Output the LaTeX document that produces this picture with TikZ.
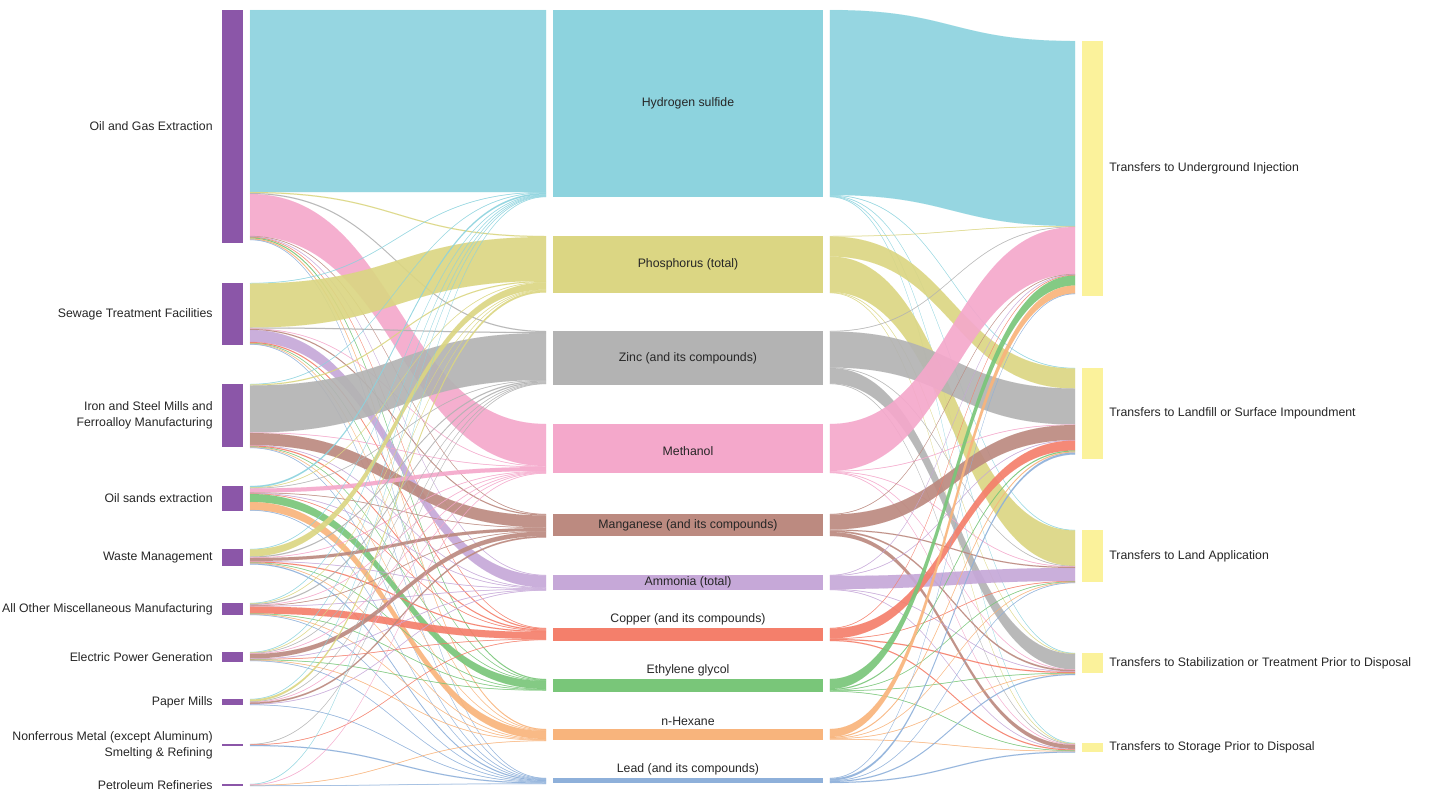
\documentclass[tikz,border=0pt]{standalone}
\usepackage{fontspec}
\setmainfont{Liberation Sans}
\usetikzlibrary{calc,positioning}

\definecolor{cind}{HTML}{8B56A8}
\definecolor{cdest}{HTML}{FBF29B}
\definecolor{ch2s}{HTML}{8DD3DE}
\definecolor{cphos}{HTML}{DBD683}
\definecolor{czinc}{HTML}{B3B3B3}
\definecolor{cmeth}{HTML}{F4A8CB}
\definecolor{cmang}{HTML}{BC8A80}
\definecolor{cammo}{HTML}{C6A8D8}
\definecolor{ccopp}{HTML}{F47F6B}
\definecolor{ceg}{HTML}{79C679}
\definecolor{chex}{HTML}{F8B47C}
\definecolor{clead}{HTML}{8EB0DA}

\tikzset{
  indbar/.style={fill=cind, inner sep=0pt, outer sep=0pt, minimum width=0.42cm},
  destbar/.style={fill=cdest, inner sep=0pt, outer sep=0pt, minimum width=0.42cm},
  chembox/.style={inner sep=0pt, outer sep=0pt, minimum width=5.4cm},
  lbl/.style={font=\fontsize{7}{9}\selectfont, text=black!85, inner sep=0pt},
  band/.style={fill=#1, fill opacity=0.92, draw=#1, draw opacity=0.4, line width=0.15pt}
}

% ribbon from node #1 to node #2, width #3 (px), colour #4
\newcommand{\flow}[4]{%
  \pgfmathsetmacro\ribA{\csname offout#1\endcsname}%
  \pgfmathsetmacro\ribB{\ribA+#3}%
  \pgfmathsetmacro\ribC{\csname offin#2\endcsname}%
  \pgfmathsetmacro\ribD{\ribC+#3}%
  \expandafter\xdef\csname offout#1\endcsname{\ribB}%
  \expandafter\xdef\csname offin#2\endcsname{\ribD}%
  \edef\ribcol{#4}%
  \coordinate (fa) at ($(#1.north east)+(7,\ribA)$);
  \coordinate (fb) at ($(#1.north east)+(7,\ribB)$);
  \coordinate (fc) at ($(#2.north west)+(-7,\ribC)$);
  \coordinate (fd) at ($(#2.north west)+(-7,\ribD)$);
  \coordinate (fm) at ($(fa)!.5!(fc)$);
  \path[band=\ribcol] (fa) .. controls (fm |- fa) and (fm |- fc) .. (fc) -- (fd)
    .. controls (fm |- fd) and (fm |- fb) .. (fb) -- cycle;
}

\begin{document}
\begin{tikzpicture}[x=0.02cm, y=-0.02cm]
\useasboundingbox (0,0) rectangle (1429,790);

% industries
\node[indbar, minimum height=4.66cm] (oil) at (232.5,126.5) {};
\node[indbar, minimum height=1.24cm] (sew) at (232.5,314) {};
\node[indbar, minimum height=1.26cm] (iron) at (232.5,415.5) {};
\node[indbar, minimum height=0.50cm] (sand) at (232.5,498.5) {};
\node[indbar, minimum height=0.34cm] (waste) at (232.5,557.5) {};
\node[indbar, minimum height=0.24cm] (misc) at (232.5,609) {};
\node[indbar, minimum height=0.20cm] (elec) at (232.5,657) {};
\node[indbar, minimum height=0.12cm] (paper) at (232.5,702) {};
\node[indbar, minimum height=0.04cm] (nonf) at (232.5,745) {};
\node[indbar, minimum height=0.04cm] (petro) at (232.5,785) {};

\node[lbl, left=0.18cm of oil] (loil) {Oil and Gas Extraction};
\node[lbl, left=0.18cm of sew] (lsew) {Sewage Treatment Facilities};
\node[lbl, align=right, left=0.18cm of iron] (liron) {Iron and Steel Mills and\\Ferroalloy Manufacturing};
\node[lbl, left=0.18cm of sand] (lsand) {Oil sands extraction};
\node[lbl, left=0.18cm of waste] (lwaste) {Waste Management};
\node[lbl, left=0.18cm of misc] (lmisc) {All Other Miscellaneous Manufacturing};
\node[lbl, left=0.18cm of elec] (lelec) {Electric Power Generation};
\node[lbl, left=0.18cm of paper] (lpaper) {Paper Mills};
\node[lbl, align=right, left=0.18cm of nonf] (lnonf) {Nonferrous Metal (except Aluminum)\\Smelting \& Refining};
\node[lbl, left=0.18cm of petro] (lpetro) {Petroleum Refineries};

% chemicals
\node[chembox, fill=ch2s, minimum height=3.74cm] (h2s) at (688,103.5) {};
\node[chembox, fill=cphos, minimum height=1.14cm] (phos) at (688,264.5) {};
\node[chembox, fill=czinc, minimum height=1.08cm] (zinc) at (688,358) {};
\node[chembox, fill=cmeth, minimum height=0.98cm] (meth) at (688,448.5) {};
\node[chembox, fill=cmang, minimum height=0.44cm] (mang) at (688,525) {};
\node[chembox, fill=cammo, minimum height=0.30cm] (ammo) at (688,582.5) {};
\node[chembox, fill=ccopp, minimum height=0.26cm] (copp) at (688,634.5) {};
\node[chembox, fill=ceg, minimum height=0.26cm] (eg) at (688,685.5) {};
\node[chembox, fill=chex, minimum height=0.22cm] (hex) at (688,734.5) {};
\node[chembox, fill=clead, minimum height=0.10cm] (lead) at (688,780.5) {};

\node[lbl] (lh2s) at (h2s) {Hydrogen sulfide};
\node[lbl] (lphos) at (phos) {Phosphorus (total)};
\node[lbl] (lzinc) at (zinc) {Zinc (and its compounds)};
\node[lbl] (lmeth) at ([yshift=-0.05cm]meth.center) {Methanol};
\node[lbl] (lmang) at (mang) {Manganese (and its compounds)};
\node[lbl] (lammo) at (ammo) {Ammonia (total)};
\node[lbl, above=0.06cm of copp] (lcopp) {Copper (and its compounds)};
\node[lbl, above=0.06cm of eg] (leg) {Ethylene glycol};
\node[lbl, above=0.06cm of hex] (lhex) {n-Hexane};
\node[lbl, above=0.06cm of lead] (llead) {Lead (and its compounds)};

% destinations
\node[destbar, minimum height=5.10cm] (ui) at (1092.5,168.5) {};
\node[destbar, minimum height=1.82cm] (land) at (1092.5,413.5) {};
\node[destbar, minimum height=1.04cm] (lapp) at (1092.5,556) {};
\node[destbar, minimum height=0.40cm] (stab) at (1092.5,663) {};
\node[destbar, minimum height=0.18cm] (stor) at (1092.5,747.5) {};

\node[lbl, right=0.12cm of ui] (lui) {Transfers to Underground Injection};
\node[lbl, right=0.12cm of land] (lland) {Transfers to Landfill or Surface Impoundment};
\node[lbl, right=0.12cm of lapp] (llapp) {Transfers to Land Application};
\node[lbl, right=0.12cm of stab] (lstab) {Transfers to Stabilization or Treatment Prior to Disposal};
\node[lbl, right=0.12cm of stor] (lstor) {Transfers to Storage Prior to Disposal};

% offsets start at the top of every node
\foreach \n in {oil,sew,iron,sand,waste,misc,elec,paper,nonf,petro,h2s,phos,zinc,meth,mang,ammo,copp,eg,hex,lead,ui,land,lapp,stab,stor}{%
  \expandafter\xdef\csname offout\n\endcsname{0}%
  \expandafter\xdef\csname offin\n\endcsname{0}}

% industry -> chemical
\foreach \d/\v in {h2s/182,phos/1,zinc/1,meth/42,mang/0.5,ammo/0.5,copp/0.5,eg/1,hex/1,lead/0.5}{\flow{oil}{\d}{\v}{c\d}}
\foreach \d/\v in {h2s/0.5,phos/44,zinc/1,meth/0.5,mang/1,ammo/12,copp/1,eg/0.5,hex/0.5,lead/0.5}{\flow{sew}{\d}{\v}{c\d}}
\foreach \d/\v in {h2s/0.5,phos/1,zinc/47,meth/0.5,mang/12,ammo/0.5,copp/1,eg/0.5,hex/0.5,lead/0.5}{\flow{iron}{\d}{\v}{c\d}}
\foreach \d/\v in {h2s/1.5,phos/0.5,zinc/0.5,meth/4,mang/0.5,ammo/0.5,copp/0.5,eg/8,hex/8,lead/0.5}{\flow{sand}{\d}{\v}{c\d}}
\foreach \d/\v in {h2s/0.5,phos/7,zinc/1,meth/0.5,mang/3,ammo/0.5,copp/1,eg/0.5,hex/0.5,lead/1}{\flow{waste}{\d}{\v}{c\d}}
\foreach \d/\v in {h2s/0.5,phos/0.5,zinc/1,meth/0.5,mang/0.5,ammo/0.5,copp/7,eg/0.5,hex/0.5,lead/0.5}{\flow{misc}{\d}{\v}{c\d}}
\foreach \d/\v in {h2s/0.5,phos/0.5,zinc/0.5,meth/0.5,mang/4.5,ammo/0.5,copp/0.5,eg/0.5,hex/0.5,lead/0.5}{\flow{elec}{\d}{\v}{c\d}}
\foreach \d/\v in {h2s/0.5,phos/2,zinc/0.5,meth/0.5,mang/1.5,ammo/0.5,lead/0.5}{\flow{paper}{\d}{\v}{c\d}}
\foreach \d/\v in {zinc/0.5,copp/0.5,lead/1}{\flow{nonf}{\d}{\v}{c\d}}
\foreach \d/\v in {h2s/0.5,meth/0.5,hex/0.5,lead/0.5}{\flow{petro}{\d}{\v}{c\d}}

% chemical -> transfer
\foreach \d/\v in {ui/185,land/0.5,lapp/0.5,stab/0.5,stor/0.5}{\flow{h2s}{\d}{\v}{ch2s}}
\foreach \d/\v in {ui/0.5,land/20,lapp/35.5,stab/0.5,stor/0.5}{\flow{phos}{\d}{\v}{cphos}}
\foreach \d/\v in {ui/0.5,land/36,lapp/0.5,stab/15.5,stor/0.5}{\flow{zinc}{\d}{\v}{czinc}}
\foreach \d/\v in {ui/47,land/0.5,lapp/0.5,stab/0.5,stor/0.5}{\flow{meth}{\d}{\v}{cmeth}}
\foreach \d/\v in {ui/0.5,land/15,lapp/1,stab/1.5,stor/4}{\flow{mang}{\d}{\v}{cmang}}
\foreach \d/\v in {ui/0.5,land/0.5,lapp/13,stab/0.5,stor/0.5}{\flow{ammo}{\d}{\v}{cammo}}
\foreach \d/\v in {ui/0.5,land/10,lapp/0.5,stab/1,stor/1}{\flow{copp}{\d}{\v}{ccopp}}
\foreach \d/\v in {ui/10,land/1,lapp/0.5,stab/0.5,stor/0.5}{\flow{eg}{\d}{\v}{ceg}}
\foreach \d/\v in {ui/8,land/1,lapp/0.5,stab/0.5,stor/0.5}{\flow{hex}{\d}{\v}{chex}}
\foreach \d/\v in {ui/0.5,land/2,lapp/0.5,stab/1,stor/1}{\flow{lead}{\d}{\v}{clead}}
\end{tikzpicture}
\end{document}
